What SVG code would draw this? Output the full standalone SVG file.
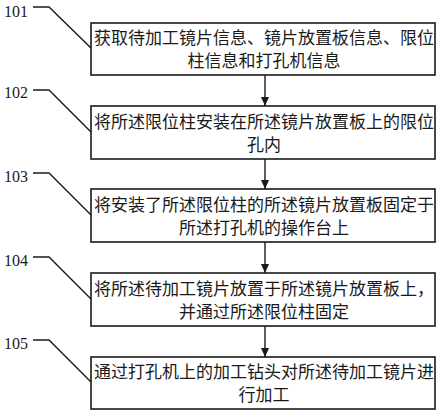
<svg xmlns="http://www.w3.org/2000/svg" width="443" height="414" viewBox="0 0 443 414">
<defs>
<style>
.box{fill:#fff;stroke:#1a1a1a;stroke-width:1.6}
.t{font-family:"Noto Sans CJK SC","Noto Sans CJK JP",sans-serif;font-size:17px;fill:#1a1a1a;text-anchor:middle}
.lbl{font-family:"Liberation Serif",serif;font-size:16px;fill:#1a1a1a}
.lead{fill:none;stroke:#1a1a1a;stroke-width:1.4}
.conn{stroke:#1a1a1a;stroke-width:1.4}
</style>
<marker id="ah" markerWidth="10" markerHeight="10" refX="9" refY="5" orient="auto" markerUnits="userSpaceOnUse">
<path d="M0,1 L9,5 L0,9 Z" fill="#1a1a1a"/>
</marker>
</defs>
<rect width="443" height="414" fill="#fff"/>
<g id="connectors">
<line class="conn" x1="265" y1="75" x2="265" y2="106" marker-end="url(#ah)"/>
<line class="conn" x1="265" y1="159" x2="265" y2="189" marker-end="url(#ah)"/>
<line class="conn" x1="265" y1="242" x2="265" y2="273" marker-end="url(#ah)"/>
<line class="conn" x1="265" y1="326" x2="265" y2="357" marker-end="url(#ah)"/>
</g>
<g id="n101">
<rect class="box" x="91" y="23" width="344" height="52"/>
<text class="t" x="264" y="44">获取待加工镜片信息、镜片放置板信息、限位</text>
<text class="t" x="264" y="67">柱信息和打孔机信息</text>
<text class="lbl" x="4" y="17">101</text>
<polyline class="lead" points="33,7 49,7 91,48"/>
</g>
<g id="n102">
<rect class="box" x="91" y="106" width="344" height="53"/>
<text class="t" x="264" y="128">将所述限位柱安装在所述镜片放置板上的限位</text>
<text class="t" x="264" y="151">孔内</text>
<text class="lbl" x="4" y="98">102</text>
<polyline class="lead" points="33,90 49,90 91,132"/>
</g>
<g id="n103">
<rect class="box" x="91" y="189" width="344" height="53"/>
<text class="t" x="264" y="211">将安装了所述限位柱的所述镜片放置板固定于</text>
<text class="t" x="264" y="234">所述打孔机的操作台上</text>
<text class="lbl" x="4" y="182">103</text>
<polyline class="lead" points="33,173 49,173 91,215"/>
</g>
<g id="n104">
<rect class="box" x="91" y="273" width="344" height="53"/>
<text class="t" x="264" y="295">将所述待加工镜片放置于所述镜片放置板上，</text>
<text class="t" x="264" y="318">并通过所述限位柱固定</text>
<text class="lbl" x="4" y="266">104</text>
<polyline class="lead" points="33,257 49,257 91,299"/>
</g>
<g id="n105">
<rect class="box" x="91" y="357" width="344" height="52"/>
<text class="t" x="264" y="378">通过打孔机上的加工钻头对所述待加工镜片进</text>
<text class="t" x="264" y="401">行加工</text>
<text class="lbl" x="4" y="349">105</text>
<polyline class="lead" points="33,340 49,340 91,382"/>
</g>
</svg>
